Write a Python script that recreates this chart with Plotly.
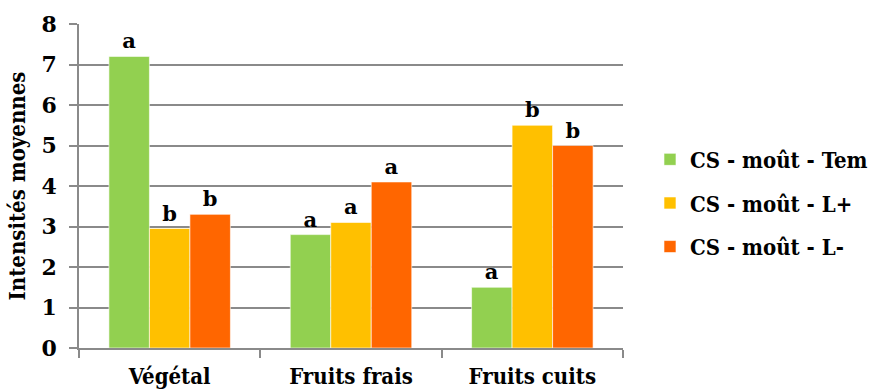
import plotly.graph_objects as go

categories = ["Végétal", "Fruits frais", "Fruits cuits"]
series_names = ["CS - moût - Tem", "CS - moût - L+", "CS - moût - L-"]
tem_values = [7.2, 2.8, 1.5]
lplus_values = [2.95, 3.1, 5.5]
lminus_values = [3.3, 4.1, 5.0]
tem_letters = ["a", "a", "a"]
lplus_letters = ["b", "a", "b"]
lminus_letters = ["b", "a", "b"]
colors = ["#92D050", "#FFC000", "#FF6600"]

GRID = "#8a8a8a"
SERIF = "DejaVu Serif"
SERIF_C = "DejaVu Serif Condensed"

fig = go.Figure()
for i, (name, vals, letters) in enumerate(zip(
        series_names,
        [tem_values, lplus_values, lminus_values],
        [tem_letters, lplus_letters, lminus_letters])):
    fig.add_trace(go.Bar(
        x=categories, y=vals, name=f"<b>{name}</b>",
        marker=dict(color=colors[i], line=dict(color="white", width=0.6)),
        text=letters, texttemplate="<b>%{text}</b>", textposition="outside",
        textfont=dict(family=SERIF, size=21, color="black"),
        cliponaxis=False, legendgroup=f"g{i}",
    ))

fig.update_layout(
    width=876, height=392,
    margin=dict(l=79, r=253, t=24, b=44, autoexpand=False),
    paper_bgcolor="white", plot_bgcolor="white",
    barmode="group", bargap=0.33, bargroupgap=0,
    font=dict(family=SERIF, color="black"),
    showlegend=True,
    legend=dict(
        xref="container", yref="container",
        x=0.742, y=0.482, xanchor="left", yanchor="middle",
        font=dict(family=SERIF_C, size=22, color="black"),
        tracegroupgap=12, itemclick=False,
        bgcolor="rgba(0,0,0,0)",
    ),
)
fig.update_yaxes(
    range=[0, 8], dtick=1, showgrid=True, gridcolor=GRID, gridwidth=1.5,
    showline=True, linecolor=GRID, linewidth=1.5,
    ticks="outside", ticklen=8, tickcolor=GRID, tickwidth=1.5,
    tickfont=dict(family=SERIF, size=22, color="black"),
    ticklabelstandoff=8, zeroline=False, automargin=False,
    title=dict(text="<b>Intensités moyennes</b>", standoff=10,
               font=dict(family=SERIF_C, size=22, color="black")),
    tickprefix="<b>", ticksuffix="</b>",
)
fig.update_xaxes(
    showline=True, linecolor=GRID, linewidth=1.5,
    ticks="outside", ticklen=8, tickcolor=GRID, tickwidth=1.5,
    tickson="boundaries", automargin=False,
    tickfont=dict(family=SERIF_C, size=22, color="black"),
    ticklabelstandoff=8,
    tickprefix="<b>", ticksuffix="</b>",
)

fig.write_html("out.html")
